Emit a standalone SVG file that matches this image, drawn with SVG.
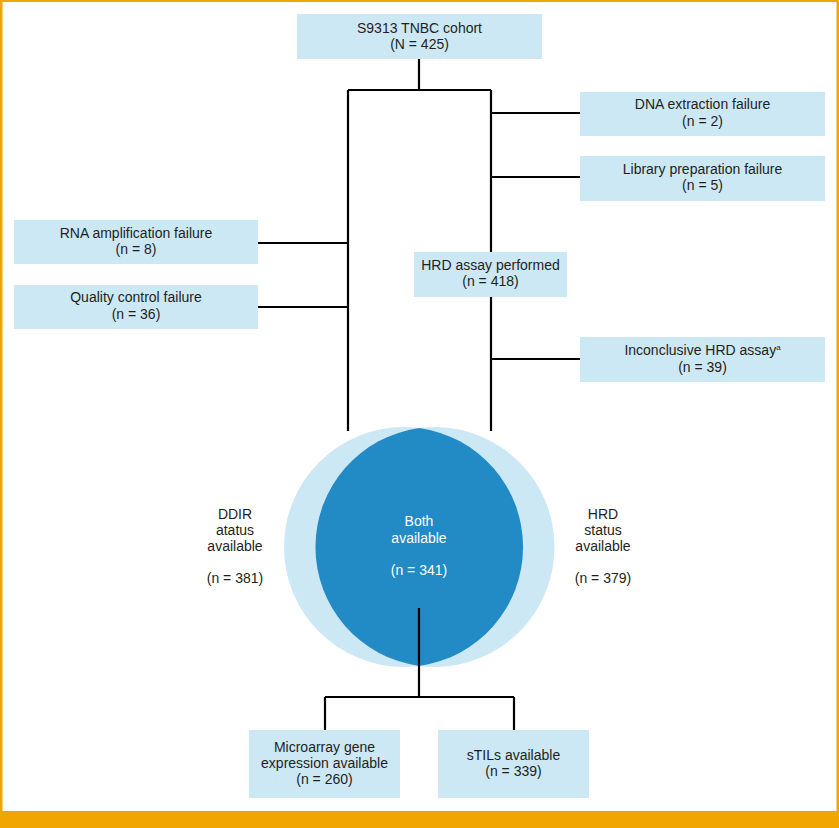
<svg xmlns="http://www.w3.org/2000/svg" width="839" height="828" viewBox="0 0 839 828">
<style>
.box{fill:#cde8f5}
.t{font-family:"Liberation Sans",Arial,sans-serif;font-size:14px;fill:#231f20;text-anchor:middle}
.w{fill:#ffffff}
.c{stroke:#000;stroke-width:2.2;fill:none}
</style>
<rect x="0" y="0" width="839" height="828" fill="#ffffff"/>
<g id="frame" fill="#f0a500">
<rect x="0" y="0" width="839" height="2"/>
<rect x="0" y="0" width="2.5" height="828"/>
<rect x="836.5" y="0" width="2.5" height="828"/>
<rect x="0" y="811" width="839" height="17"/>
</g>
<g id="venn">
<circle cx="404" cy="547" r="120" fill="#cde8f5"/>
<circle cx="434.5" cy="547" r="120" fill="#cde8f5"/>
<path d="M419.25,428.1 A120,120 0 0 1 419.25,665.9 A120,120 0 0 1 419.25,428.1 Z" fill="#228bc5"/>
<text class="t w" x="419" y="526">Both</text>
<text class="t w" x="419" y="543">available</text>
<text class="t w" x="419" y="575">(n = 341)</text>
</g>
<g id="ddir">
<text class="t" x="235" y="519">DDIR</text>
<text class="t" x="235" y="535">atatus</text>
<text class="t" x="235" y="551">available</text>
<text class="t" x="235" y="583">(n = 381)</text>
</g>
<g id="hrdstatus">
<text class="t" x="603" y="519">HRD</text>
<text class="t" x="603" y="535">status</text>
<text class="t" x="603" y="551">available</text>
<text class="t" x="603" y="583">(n = 379)</text>
</g>
<g id="connectors" class="c">
<path d="M419,59 V90 M348,90 H491 M348,90 V431 M491,90 V252 M491,297 V431"/>
<path d="M491,113 H580 M491,177 H580 M491,359 H580"/>
<path d="M258,243 H348 M258,307 H348"/>
<path d="M419,608 V697 M325,697 H514 M325,697 V730 M514,697 V730"/>
</g>
<g id="cohort">
<rect class="box" x="297" y="14" width="245" height="45"/>
<text class="t" x="419.5" y="33">S9313 TNBC cohort</text>
<text class="t" x="419.5" y="49">(N = 425)</text>
</g>
<g id="dna">
<rect class="box" x="580" y="92" width="245" height="44"/>
<text class="t" x="702.5" y="109">DNA extraction failure</text>
<text class="t" x="702.5" y="126">(n = 2)</text>
</g>
<g id="library">
<rect class="box" x="580" y="156" width="245" height="45"/>
<text class="t" x="702.5" y="174">Library preparation failure</text>
<text class="t" x="702.5" y="190">(n = 5)</text>
</g>
<g id="rna">
<rect class="box" x="14" y="220" width="244" height="44"/>
<text class="t" x="136" y="238">RNA amplification failure</text>
<text class="t" x="136" y="254">(n = 8)</text>
</g>
<g id="qc">
<rect class="box" x="14" y="285" width="244" height="44"/>
<text class="t" x="136" y="302">Quality control failure</text>
<text class="t" x="136" y="319">(n = 36)</text>
</g>
<g id="hrd">
<rect class="box" x="414" y="252" width="153" height="45"/>
<text class="t" x="490.5" y="270">HRD assay performed</text>
<text class="t" x="490.5" y="286">(n = 418)</text>
</g>
<g id="inconclusive">
<rect class="box" x="580" y="337" width="245" height="45"/>
<text class="t" x="702.5" y="355">Inconclusive HRD assay<tspan font-size="8" dy="-5">a</tspan></text>
<text class="t" x="702.5" y="372">(n = 39)</text>
</g>
<g id="microarray">
<rect class="box" x="249" y="730" width="151" height="68"/>
<text class="t" x="324.5" y="752">Microarray gene</text>
<text class="t" x="324.5" y="768">expression available</text>
<text class="t" x="324.5" y="784">(n = 260)</text>
</g>
<g id="stils">
<rect class="box" x="438" y="730" width="151" height="68"/>
<text class="t" x="513.5" y="760">sTILs available</text>
<text class="t" x="513.5" y="776">(n = 339)</text>
</g>
</svg>
